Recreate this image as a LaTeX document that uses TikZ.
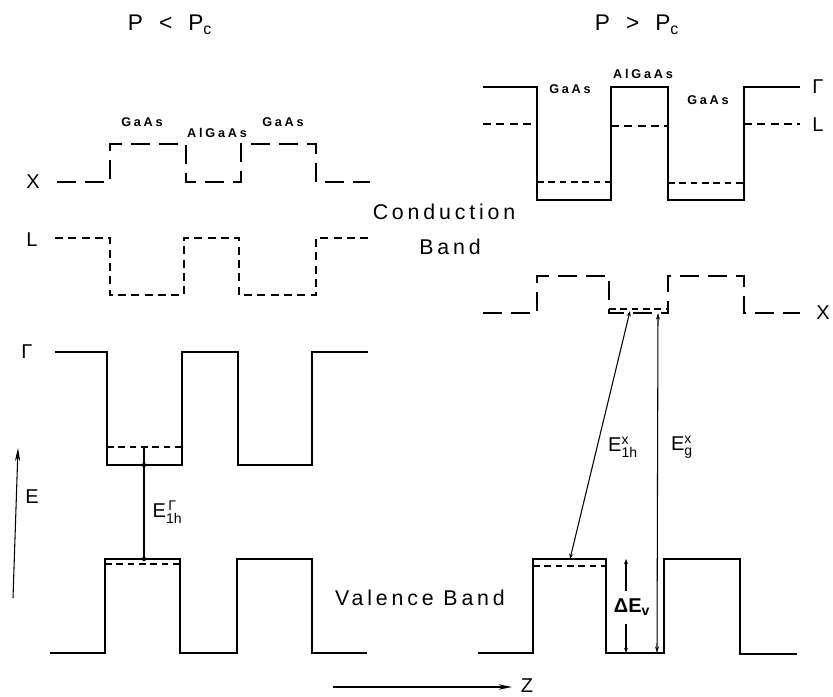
\documentclass[tikz,border=0pt]{standalone}
\usepackage{fontspec}
\setmainfont{Liberation Sans}
\newfontfamily\spacedfont[LetterSpace=18]{Liberation Sans}
\newfontfamily\matfont[LetterSpace=22]{Liberation Sans Bold}
\usepackage{amsmath}
\usetikzlibrary{arrows.meta}
\begin{document}
\begin{tikzpicture}[x=0.75pt,y=-0.75pt,
  band/.style={line width=1.2pt},
  xband/.style={band, dash pattern=on 14pt off 7pt},
  lband/.style={band, dash pattern=on 6pt off 4pt},
  lvl/.style={line width=1.05pt, dash pattern=on 5pt off 3.5pt},
  trans/.style={line width=0.8pt},
  big/.style={font=\fontsize{16}{19}\selectfont\spacedfont},
  lab/.style={font=\fontsize{15}{18}\selectfont},
  mat/.style={font=\fontsize{9.5}{11}\selectfont\matfont},
  ttl/.style={font=\fontsize{17}{20}\selectfont}]
\path[use as bounding box] (0,0) rectangle (833,697);

% titles
\node[ttl] (t1) at (170,25) {P\hspace{12pt}<\hspace{12pt}P\textsubscript{c}};
\node[ttl] (t2) at (637,25) {P\hspace{12pt}>\hspace{12pt}P\textsubscript{c}};

% ---------- left panel ----------
\draw[xband] (57,182) -- (110,182) -- (110,144) -- (186,144) -- (186,182) -- (241,182) -- (241,144) -- (316,144) -- (316,182) -- (370,182);
\draw[lband] (55,238) -- (110,238) -- (110,295) -- (184,295) -- (184,238) -- (239,238) -- (239,295) -- (316,295) -- (316,238) -- (370,238);
\draw[band] (55,352) -- (107,352) -- (107,465) -- (182,465) -- (182,352) -- (238,352) -- (238,465) -- (312,465) -- (312,352) -- (368,352);
\draw[lvl] (107,447) -- (182,447);
\draw[band] (50,653) -- (105,653) -- (105,559) -- (180,559) -- (180,653) -- (237,653) -- (237,559) -- (312,559) -- (312,653) -- (367,653);
\draw[lvl] (105,564) -- (180,564);

\node[lab] (lx) at (33,182) {X};
\node[lab] (ll) at (32,240) {L};
\node[lab] (lg) at (27,352) {Γ};
\node[mat] (m1) at (142,122) {GaAs};
\node[mat] (m2) at (217,133) {AlGaAs};
\node[mat] (m3) at (283,122) {GaAs};

\coordinate (g1a) at (144,447);
\coordinate (g1m) at (144,465);
\coordinate (g1b) at (144,559);
\draw[trans] (g1a) -- (g1b);
\fill (g1m) circle (1.6pt);
\fill (g1b) circle (1.6pt);
\node[lab, anchor=west] (eg1) at (148,512) {E$^{\,\text{Γ}}_{\text{1h}}$};

% E axis
\coordinate (ea) at (13,598);
\coordinate (eb) at (18,448);
\draw[trans, -{Stealth[length=10pt,width=4pt]}] (ea) -- (eb);
\node[lab] (le) at (32,497) {E};

% ---------- middle texts ----------
\node[big] (cb) at (444,212) {Conduction};
\node[big] (cb2) at (450,247) {Band};
\node[big] (vb) at (420,598) {Valence Band};

\coordinate (za) at (333,687);
\coordinate (zb) at (512,687);
\draw[trans, -{Stealth[length=10pt,width=4pt]}] (za) -- (zb);
\node[lab, inner sep=0pt] (lz) at (527,686) {Z};

% ---------- right panel ----------
\draw[band] (483,87) -- (537,87) -- (537,200) -- (611,200) -- (611,87) -- (668,87) -- (668,200) -- (744,200) -- (744,87) -- (800,87);
\draw[lband] (483,124) -- (537,124);
\draw[lband] (611,126) -- (668,126);
\draw[lband] (744,124) -- (800,124);
\draw[lvl] (537,182) -- (611,182);
\draw[lvl] (668,183) -- (744,183);

\draw[xband] (483,313) -- (537,313) -- (537,276) -- (609,276) -- (609,313) -- (668,313) -- (668,276) -- (744,276) -- (744,313) -- (800,313);
\draw[lvl] (609,309) -- (668,309);

\draw[band] (478,653) -- (533,653) -- (533,559) -- (606,559) -- (606,653) -- (664,653) -- (664,559) -- (740,559) -- (740,654) -- (797,654);
\draw[lvl] (533,566) -- (606,566);

\node[lab] (rg) at (818,87) {Γ};
\node[lab] (rl) at (818,125) {L};
\node[lab] (rx) at (823,313) {X};
\node[mat] (m4) at (570,89) {GaAs};
\node[mat] (m5) at (643,74) {AlGaAs};
\node[mat] (m6) at (708,100) {GaAs};

% transitions
\coordinate (x1a) at (630,311);
\coordinate (x1b) at (570,559);
\draw[trans, {Stealth[length=4pt,width=3pt]}-{Stealth[length=4pt,width=3pt]}] (x1a) -- (x1b);
\coordinate (xga) at (658,313);
\coordinate (xgb) at (657,653);
\draw[trans, {Stealth[length=5pt,width=3pt]}-{Stealth[length=5pt,width=3pt]}] (xga) -- (xgb);
\node[lab] (ex1) at (623,447) {E$^{\text{x}}_{\text{1h}}$};
\node[lab] (exg) at (682,447) {E$^{\text{x}}_{\text{g}}$};

\coordinate (dva) at (626,559);
\coordinate (dvm1) at (626,591);
\coordinate (dvm2) at (626,624);
\coordinate (dvb) at (626,653);
\draw[trans, {Stealth[length=4pt,width=3pt]}-] (dva) -- (dvm1);
\draw[trans, -{Stealth[length=4pt,width=3pt]}] (dvm2) -- (dvb);
\node[lab, font=\fontsize{15}{17}\selectfont\bfseries] (dv) at (632,607) {ΔE\textsubscript{v}};
\end{tikzpicture}
\end{document}
